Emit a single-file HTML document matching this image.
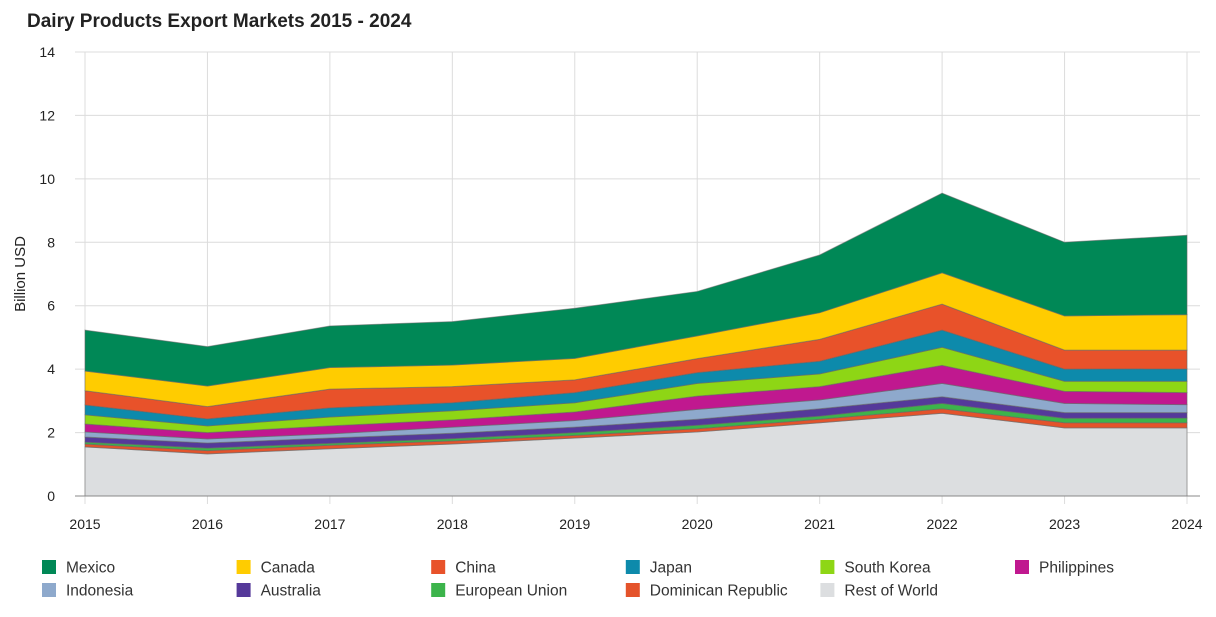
<!DOCTYPE html>
<html><head><meta charset="utf-8"><style>
body{margin:0;background:#fff;font-family:"Liberation Sans",Arial,sans-serif}
svg text{font-family:"Liberation Sans",Arial,sans-serif}
</style></head><body>
<svg id="chart" width="1216" height="612" xmlns="http://www.w3.org/2000/svg">
<text x="27" y="27" font-size="19" font-weight="bold" fill="#222">Dairy Products Export Markets 2015 - 2024</text>
<text transform="translate(25,274) rotate(-90)" text-anchor="middle" font-size="15" fill="#222">Billion USD</text>
<g id="grid"></g><g id="areas"></g><g id="axes"></g><g id="legend"></g>
</svg>
<script>
const years=[2015,2016,2017,2018,2019,2020,2021,2022,2023,2024];
const yTicks=[0,2,4,6,8,10,12,14];
const seriesNames=["Rest of World","Dominican Republic","European Union","Australia","Indonesia","Philippines","South Korea","Japan","China","Canada","Mexico"];
const restOfWorld=[1.55,1.33,1.49,1.64,1.83,2.02,2.31,2.61,2.15,2.15];
const dominicanRepublic=[0.09,0.10,0.11,0.10,0.08,0.10,0.11,0.14,0.16,0.16];
const europeanUnion=[0.06,0.08,0.06,0.07,0.09,0.11,0.10,0.17,0.14,0.15];
const australia=[0.16,0.16,0.17,0.17,0.17,0.19,0.23,0.21,0.18,0.17];
const indonesia=[0.16,0.13,0.13,0.19,0.21,0.31,0.28,0.42,0.29,0.25];
const philippines=[0.25,0.20,0.25,0.23,0.27,0.42,0.42,0.57,0.38,0.38];
const southKorea=[0.29,0.21,0.28,0.29,0.29,0.40,0.40,0.57,0.32,0.36];
const japan=[0.31,0.22,0.29,0.25,0.32,0.34,0.40,0.54,0.38,0.39];
const china=[0.45,0.39,0.59,0.51,0.40,0.44,0.69,0.82,0.60,0.59];
const canada=[0.62,0.65,0.68,0.68,0.68,0.72,0.84,0.99,1.08,1.12];
const mexico=[1.29,1.24,1.31,1.37,1.58,1.40,1.82,2.51,2.32,2.50];
const seriesData=[restOfWorld,dominicanRepublic,europeanUnion,australia,indonesia,philippines,southKorea,japan,china,canada,mexico];
const colors=["#DCDEE0","#E4532B","#3CB44B","#55399A","#8EA9CC","#C0188F","#8ED615","#0D8AAB","#E8522A","#FFCC00","#008856"];
const legendOrder=["Mexico","Canada","China","Japan","South Korea","Philippines","Indonesia","Australia","European Union","Dominican Republic","Rest of World"];
const NS="http://www.w3.org/2000/svg";
const x0=85,x1=1187,yb=496,yt=52;
const xs=i=>x0+(x1-x0)*i/(years.length-1);
const ys=v=>yb-(yb-yt)*v/14;
function mk(t,a,p){const e=document.createElementNS(NS,t);for(const k in a)e.setAttribute(k,a[k]);p.appendChild(e);return e;}
const grid=document.getElementById('grid'),areas=document.getElementById('areas'),axes=document.getElementById('axes'),legend=document.getElementById('legend');
yTicks.forEach(v=>{
 const l=mk('line',{x1:x0-10,x2:1200,y1:ys(v),y2:ys(v),stroke:'#dcdcdc','stroke-width':1},grid);
 
 
 const t=mk('text',{x:55,y:ys(v)+5,'text-anchor':'end','font-size':14,fill:'#222'},axes);
 t.textContent=v;
 
 
});
years.forEach((y,i)=>{
 const l=mk('line',{x1:xs(i),x2:xs(i),y1:yt,y2:yb+8,stroke:'#dcdcdc','stroke-width':1},grid);
 
 
 const t=mk('text',{x:xs(i),y:529,'text-anchor':'middle','font-size':14,fill:'#222'},axes);
 t.textContent=y;
 
 
});
const base=years.map(()=>0);
seriesData.forEach((s,k)=>{
 const top=s.map((v,i)=>base[i]+v);
 let d='';
 top.forEach((v,i)=>{d+=(i?'L':'M')+xs(i)+','+ys(v);});
 for(let i=years.length-1;i>=0;i--)d+='L'+xs(i)+','+ys(base[i]);
 d+='Z';
 const p=mk('path',{d:d,fill:colors[k],stroke:'#666','stroke-opacity':0.55,'stroke-width':1},areas);
 
 
 top.forEach((v,i)=>base[i]=v);
});
const ax=mk('line',{x1:x0-10,x2:1200,y1:yb,y2:yb,stroke:'#888','stroke-width':1},axes);


legendOrder.forEach((n,j)=>{
 const col=j%6,row=Math.floor(j/6);
 const lx=42+col*194.6,ly=560+row*23;
 const g=mk('g',{},legend);
 
 
 mk('rect',{x:lx,y:ly,width:14,height:14,fill:colors[seriesNames.indexOf(n)]},g);
 const t=mk('text',{x:lx+24,y:ly+12.5,'font-size':15.5,fill:'#333'},g);
 t.textContent=n;
});
</script>
</body></html>
